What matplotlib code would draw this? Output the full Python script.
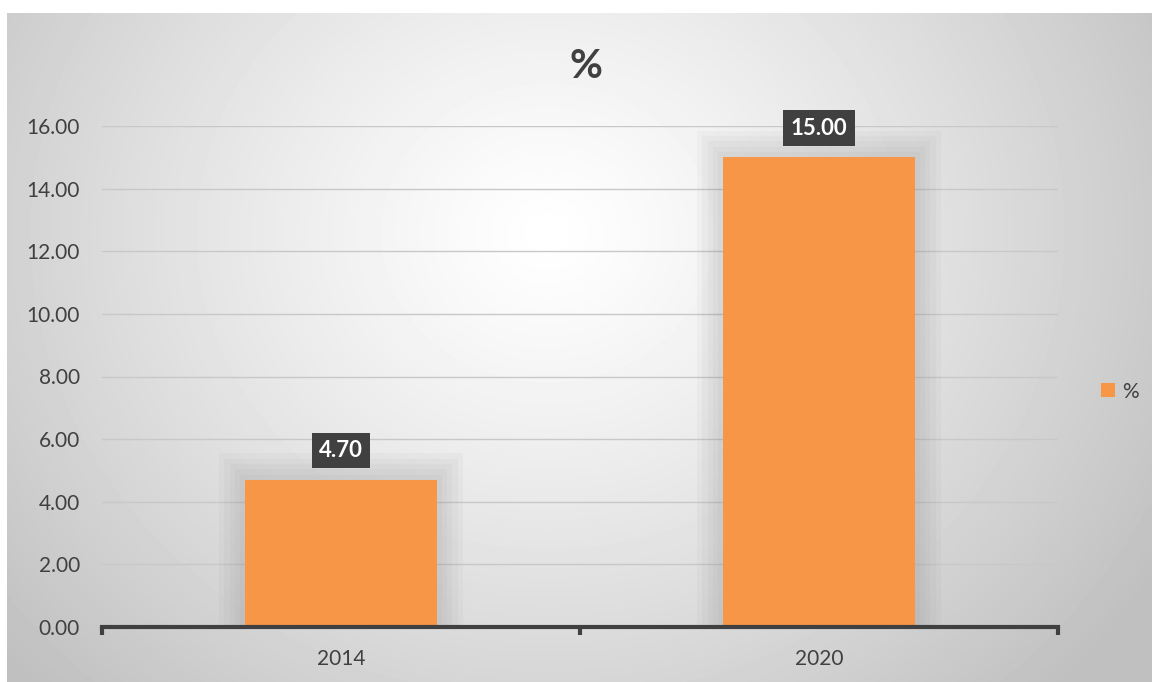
import matplotlib.pyplot as plt
import numpy as np
from matplotlib.patches import Rectangle, Patch

years = ['2014', '2020']
values = [4.70, 15.00]
yticks = [0, 2, 4, 6, 8, 10, 12, 14, 16]

W, H = 1152, 682
fig = plt.figure(figsize=(W / 100, H / 100), dpi=100)
fig.patch.set_facecolor('white')
plt.rcParams['font.family'] = ['Lato', 'DejaVu Sans']

# fondo con degradado radial
bg = fig.add_axes([7 / W, 0, 1 - 7 / W, 1 - 13 / H])
yy, xx = np.mgrid[0:669, 0:1145]
cx, cy = 540, 220
d = np.sqrt(((xx - cx) / 1.0) ** 2 + ((yy - cy) / 0.9) ** 2)
d = np.clip(d / 720, 0, 1)
grad = 1.0 - 0.25 * d ** 1.2
bg.imshow(grad, cmap='gray', vmin=0, vmax=1, aspect='auto', interpolation='bilinear')
bg.set_axis_off()

ax = fig.add_axes([102 / W, 1 - 627 / H, (1058 - 102) / W, (627 - 126) / H])
ax.set_facecolor('none')
ax.set_xlim(-0.5, 1.5)
ax.set_ylim(0, 16)

x = np.arange(len(years))
width = 0.4

# sombra difusa alrededor de las barras
for xi, v in zip(x, values):
    for k in range(1, 6):
        px = 0.011 * k
        py = 0.17 * k
        ax.add_patch(Rectangle((xi - width / 2 - px, 0), width + 2 * px, v + py,
                               facecolor='#808080', alpha=0.05, edgecolor='none', zorder=1))

ax.bar(x, values, width=width, color='#F79646', zorder=3)

for val in yticks:
    ax.axhline(val, color='#C8C8C8', lw=1, zorder=0.5)

for xi, v in zip(x, values):
    ax.annotate(f'{v:.2f}', (xi, v), xytext=(0, 21), textcoords='offset points',
                ha='center', va='center', fontsize=16, fontweight='bold', color='white',
                bbox=dict(boxstyle='square,pad=0.33', facecolor='#404040', edgecolor='none'),
                zorder=5)

ax.set_yticks(yticks)
ax.set_yticklabels([f'{t:.2f}' for t in yticks], fontsize=15, color='#404040')
ax.set_xticks([-0.5, 0.5, 1.5], minor=False)
ax.set_xticklabels([])
ax.set_xticks(x, minor=True)
ax.set_xticklabels(years, minor=True, fontsize=15, color='#404040')
ax.tick_params(axis='x', which='major', length=6, width=3, color='#404040', direction='out')
ax.tick_params(axis='x', which='minor', length=0, pad=16)
ax.tick_params(axis='y', length=0, pad=16)
for s in ['top', 'right', 'left']:
    ax.spines[s].set_visible(False)
ax.spines['bottom'].set_color('#404040')
ax.spines['bottom'].set_linewidth(3)
ax.spines['bottom'].set_zorder(6)

fig.text(586 / W, 1 - 67 / H, '%', ha='center', va='center', fontsize=29,
         fontweight='bold', color='#404040')

ax.legend(handles=[Patch(facecolor='#F79646')], labels=['%'], loc='center left',
          bbox_to_anchor=(1.045, 0.47), frameon=False, fontsize=15,
          borderpad=0, borderaxespad=0,
          handlelength=0.65, handleheight=0.65, handletextpad=0.35, labelcolor='#404040')

fig.savefig('out.png', dpi=100)
